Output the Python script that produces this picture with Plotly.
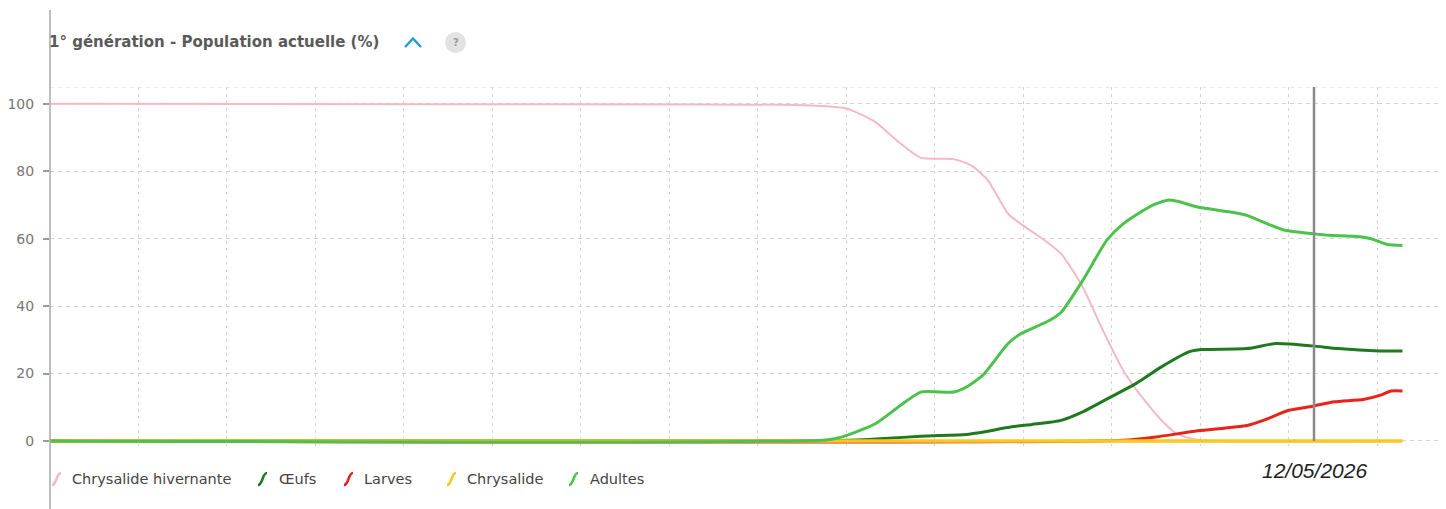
import plotly.graph_objects as go

# ---- data (x = day offset from 01/02/2026) ----
hiv_days = [0, 30, 59.5, 63, 65.3, 67, 68.9, 71.5, 72.9, 74.2, 75.8, 76.8, 78.7, 80, 81.7, 83.3, 84.9, 86.6, 88.2, 89.2, 90.8, 107]
hiv_vals = [100, 99.9, 99.6, 98.6, 94.6, 89.1, 84, 83.6, 81.7, 77.3, 67.4, 64.4, 59.5, 55.5, 45.7, 32.8, 21, 12, 5.1, 2, 0.3, 0]

oeuf_days = [0, 62.7, 66, 68.9, 72.5, 73.5, 76.1, 77.7, 80, 81.7, 83.9, 85.9, 87.9, 90.1, 91.1, 94.7, 97, 99.9, 101.9, 105.2, 107]
oeuf_vals = [0, 0.1, 0.7, 1.4, 1.9, 2.4, 4.2, 4.9, 6.1, 8.6, 13, 17, 21.9, 26.4, 27.1, 27.4, 28.9, 28.2, 27.4, 26.7, 26.7]

larv_days = [0, 84.9, 87.5, 90.8, 94.7, 96, 98, 99.9, 101.6, 103.9, 105.2, 106.1, 107]
larv_vals = [0, 0.2, 1.2, 3, 4.6, 6.1, 9.1, 10.3, 11.6, 12.3, 13.5, 14.8, 14.8]

chrys_days = [0, 107]
chrys_vals = [0, 0]

adl_days = [0, 61.4, 62.7, 65.3, 67.3, 68.9, 71.5, 72.5, 73.8, 75.8, 76.8, 79.1, 80, 81.7, 83.6, 84.9, 87.2, 88.5, 89.2, 90.8, 93.4, 94.7, 96, 97.7, 99.9, 101.2, 103.2, 104.5, 105.8, 107]
adl_vals = [0, 0.3, 1.2, 5.1, 10.6, 14.5, 14.5, 16, 19.5, 28.9, 31.8, 35.8, 38.2, 47.6, 59.5, 64.4, 69.9, 71.5, 71.1, 69.4, 67.9, 66.9, 64.9, 62.5, 61.5, 61, 60.7, 60, 58.3, 58]

series_names = ["Chrysalide hivernante", "Œufs", "Larves", "Chrysalide", "Adultes"]
series_colors = ["#f5b8c6", "#1f7a1f", "#e8231c", "#f7c81e", "#4cc24c"]
series_widths = [2, 3, 3, 3.5, 3]
today_day = 100
today_label = "12/05/2026"
y_ticks = [0, 20, 40, 60, 80, 100]
title_text = "1° génération - Population actuelle (%)"

# page body has an 8px margin: figure is offset by (8, 8)
OFF = 8
W, H = 1446 - OFF, 509 - OFF
L, T, PW, PH = 50, 87, 1396, 359   # in screenshot pixels


def px(x):
    return (x - L) / PW


def py(y):
    return (T + PH - y) / PH


fig = go.Figure()
for days, vals, name, col, w in zip(
    [hiv_days, oeuf_days, larv_days, chrys_days, adl_days],
    [hiv_vals, oeuf_vals, larv_vals, chrys_vals, adl_vals],
    series_names, series_colors, series_widths,
):
    fig.add_trace(go.Scatter(x=days, y=vals, name=name, mode="lines",
                             line=dict(color=col, width=w, shape="spline", smoothing=0.6),
                             hoverinfo="skip"))

shapes = []
# y axis line (extends beyond plot)
shapes.append(dict(type="line", xref="paper", yref="paper", x0=0, x1=0, y0=py(509), y1=py(10),
                   line=dict(color="#a8a8a8", width=1.5), layer="above"))
# top dashed grid line
shapes.append(dict(type="line", xref="paper", yref="y", x0=0, x1=1, y0=105, y1=105,
                   line=dict(color="#d4d4d4", width=1, dash="4px,4px"), layer="below"))
# today line
shapes.append(dict(type="line", xref="x", yref="y", x0=today_day, x1=today_day, y0=0, y1=105,
                   line=dict(color="#8a8a8a", width=2.5), layer="above"))
# chevron
shapes.append(dict(type="path", xref="paper", yref="paper",
                   path=f"M{px(405)},{py(47)} L{px(413)},{py(38.5)} L{px(421)},{py(47)}",
                   line=dict(color="#2b9bd3", width=2.5)))
# help circle
shapes.append(dict(type="circle", xref="paper", yref="paper",
                   x0=px(445), x1=px(466), y0=py(53), y1=py(32),
                   fillcolor="#e2e2e2", line=dict(width=0)))

annotations = [
    dict(text=title_text, xref="paper", yref="paper", x=px(47), y=py(42), xanchor="left", yanchor="middle",
         showarrow=False, font=dict(family="DejaVu Sans", size=15, color="#5a5a5a", weight=700)),
    dict(text="?", xref="paper", yref="paper", x=px(455.5), y=py(42.5), xanchor="center", yanchor="middle",
         showarrow=False, font=dict(family="DejaVu Sans", size=10, color="#9a9a9a", weight=700)),
    dict(text="<i>" + today_label + "</i>", xref="x", yref="paper", x=today_day, y=py(470),
         xanchor="center", yanchor="middle", showarrow=False,
         font=dict(family="Liberation Sans", size=21, color="#222222")),
]

# custom legend
icon_x = [52, 258, 344, 447, 569]
text_x = [70, 277, 362, 465, 588]
ly = 479
for name, col, ix, tx in zip(series_names, series_colors, icon_x, text_x):
    x0, x1 = ix, ix + 9
    shapes.append(dict(type="path", xref="paper", yref="paper",
                       path=(f"M{px(x0)},{py(ly+6)} C{px(x0+5)},{py(ly+6)} "
                             f"{px(x1-5)},{py(ly-6)} {px(x1)},{py(ly-6)}"),
                       line=dict(color=col, width=2.5)))
    annotations.append(dict(text=name, xref="paper", yref="paper", x=px(tx), y=py(ly),
                            xanchor="left", yanchor="middle", showarrow=False,
                            font=dict(family="DejaVu Sans", size=14.5, color="#444444")))

fig.update_layout(
    width=W, height=H,
    margin=dict(l=L - OFF, r=W - (L - OFF) - PW, t=T - OFF, b=H - (T - OFF) - PH, pad=0),
    paper_bgcolor="white", plot_bgcolor="white",
    showlegend=False, hovermode=False,
    shapes=shapes, annotations=annotations,
    xaxis=dict(range=[0, PW / 12.64], dtick=7, tick0=0, showgrid=True, gridcolor="#d4d4d4",
               griddash="3px,4px", gridwidth=1, showticklabels=False, zeroline=False,
               showline=False, ticks=""),
    yaxis=dict(range=[-1.5, 105], tickvals=y_ticks, showgrid=True, gridcolor="#d4d4d4",
               griddash="4px,4px", gridwidth=1, zeroline=False, showline=False,
               ticks="outside", ticklen=6, tickcolor="#9a9a9a", tickwidth=1.5,
               ticklabelstandoff=6,
               tickfont=dict(family="DejaVu Sans", size=14, color="#777777")),
)

fig.write_html("out.html")
